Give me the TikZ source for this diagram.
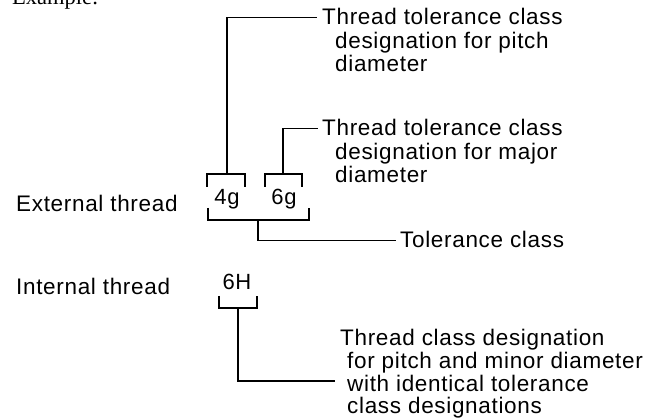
\documentclass[tikz,border=0pt]{standalone}
\usepackage{fontspec}
\newfontfamily\lsans[LetterSpace=3]{Liberation Sans}
\newfontfamily\exserif{Liberation Serif}
\begin{document}
\begin{tikzpicture}[x=1pt,y=-1pt,
  lab/.style={font=\lsans\fontsize{22.5}{22.5}\selectfont, inner sep=0pt, anchor=base west},
  labs/.style={font=\lsans\fontsize{22.5}{21.5}\selectfont, inner sep=0pt, anchor=base west},
  code/.style={font=\lsans\fontsize{22}{23}\selectfont, inner sep=0pt, anchor=base},
  ln/.style={line width=1.3pt, line join=miter}]
\useasboundingbox (0,0) rectangle (666,419);
\renewcommand\arraystretch{1}

% heading (cut off at the top)
\node[font=\exserif\fontsize{22.5}{24}\selectfont, inner sep=0pt, anchor=base west] (ex) at (12,5) {Example:};

% row labels
\node[lab] (ext) at (16,212) {External thread};
\node[lab] (int) at (16,295) {Internal thread};

% codes
\node[code] (g4) at (227,205) {4g};
\node[code] (g6) at (284,205) {6g};
\node[code] (h6) at (237,290) {6H};

% explanations
\node[lab] (t1) at (322,25) {\begin{tabular}[t]{@{}l@{}}Thread tolerance class\\\hspace*{13pt}designation for pitch\\\hspace*{13pt}diameter\end{tabular}};
\node[lab] (t2) at (322,136) {\begin{tabular}[t]{@{}l@{}}Thread tolerance class\\\hspace*{13pt}designation for major\\\hspace*{13pt}diameter\end{tabular}};
\node[lab] (t3) at (400,248) {Tolerance class};
\node[labs] (t4) at (340,345.5) {\begin{tabular}[t]{@{}l@{}}Thread class designation\\\hspace*{7pt}for pitch and minor diameter\\\hspace*{7pt}with identical tolerance\\\hspace*{7pt}class designations\end{tabular}};

% brackets
\coordinate (b4) at (227,174);
\coordinate (b6) at (283,174);
\coordinate (bt) at (258,220);
\coordinate (bh) at (238,308);
\draw[ln] (207,187) -- (207,174) -- (245,174) -- (245,187);
\draw[ln] (265,187) -- (265,174) -- (302,174) -- (302,187);
\draw[ln] (208,208) -- (208,220) -- (309,220) -- (309,208);
\draw[ln] (219,296) -- (219,308) -- (257,308) -- (257,296);

% leaders
\draw[ln] (b4) |- ([xshift=-5pt,yshift=7.5pt]t1.base west);
\draw[ln] (b6) |- ([xshift=-4pt,yshift=7.5pt]t2.base west);
\draw[ln] (bt) |- ([xshift=-4pt,yshift=7.5pt]t3.base west);
\draw[ln] (bh) |- ([xshift=-5pt,yshift=-35.5pt]t4.base west);
\end{tikzpicture}
\end{document}
